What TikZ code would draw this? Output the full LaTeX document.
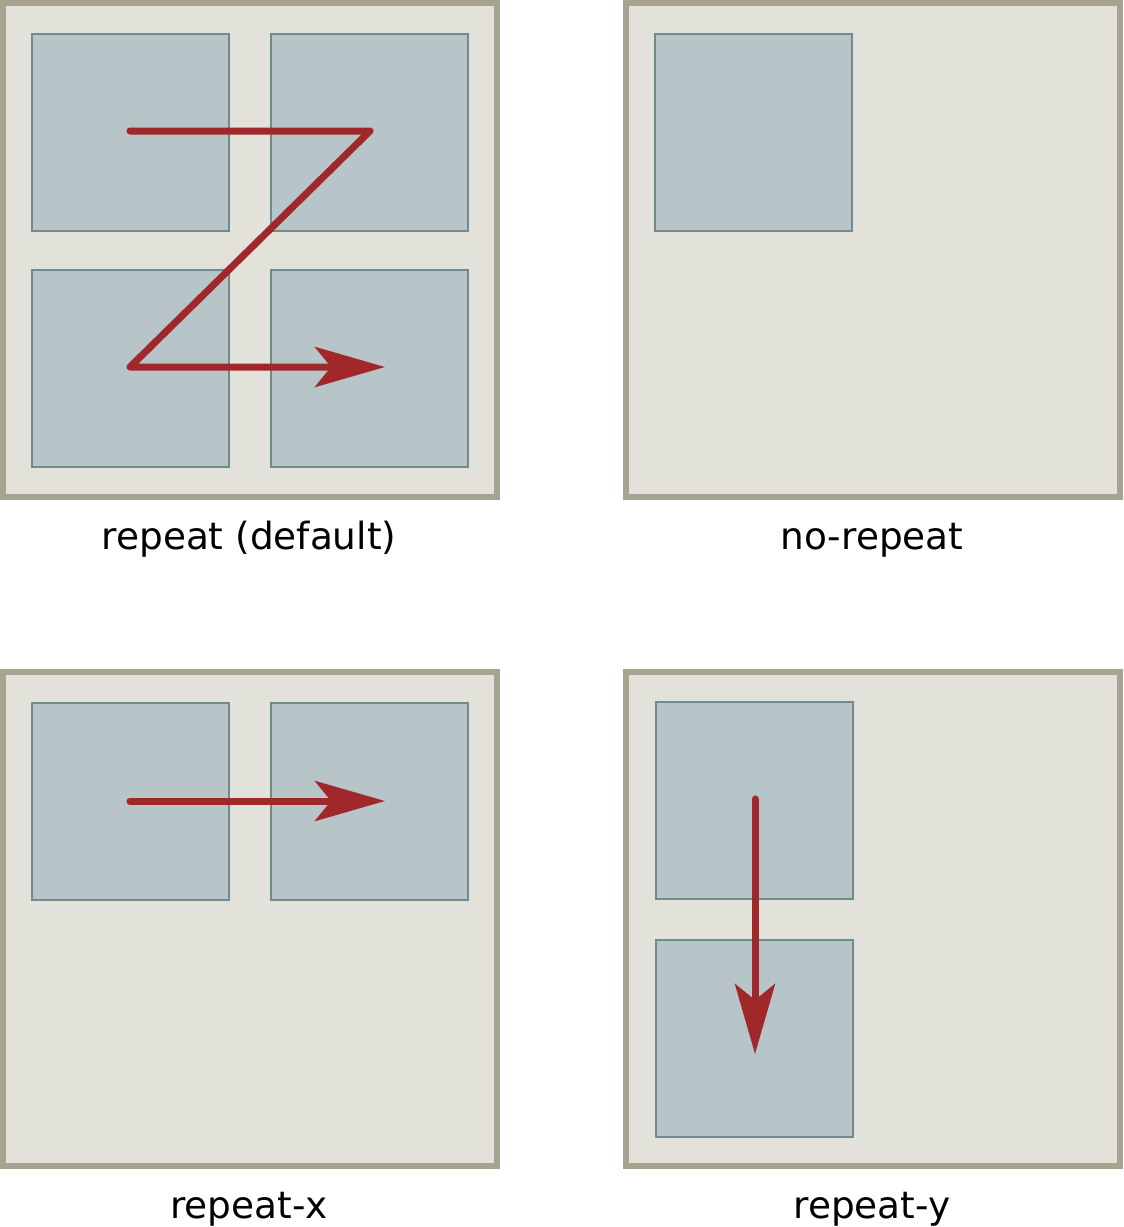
\documentclass[tikz,border=0pt]{standalone}
\usepackage{fontspec}
\setmainfont{DejaVu Sans}
\usetikzlibrary{arrows.meta}

\definecolor{frameline}{HTML}{A8A390}
\definecolor{framefill}{HTML}{E2E1DA}
\definecolor{tilefill}{HTML}{B7C4C8}
\definecolor{tileline}{HTML}{6F8B8E}
\definecolor{pathred}{HTML}{A0282A}

\tikzset{
  frame/.style={draw=frameline, fill=framefill, line width=6*0.02cm},
  tile/.style={draw=tileline, fill=tilefill, line width=2*0.02cm},
  order/.style={draw=pathred, line width=7*0.02cm, line cap=round, line join=round,
    -{Stealth[length=70*0.02cm, width=40*0.02cm, inset=16*0.02cm]}},
  caption/.style={anchor=base, font=\fontsize{21.3}{25}\selectfont, inner sep=0pt}
}

\begin{document}
\begin{tikzpicture}[x=0.02cm, y=-0.02cm]
% define variables
\pgfmathparse{197}\let\s=\pgfmathresult
\useasboundingbox (0,0) rectangle (1123,1227);

% draw frames
\foreach \x/\y in {3/3, 626/3, 3/672, 626/672}{
	\draw[frame] (\x, \y) rectangle ++(494, 494);
}

% draw tiles
\foreach \x/\y in {32/34, 271/34, 32/270, 271/270}{
	\draw[tile] (\x, \y) rectangle ++(\s, \s);
}
\draw[tile] (655,34) rectangle ++(\s, \s);
\foreach \x/\y in {32/703, 271/703}{
	\draw[tile] (\x, \y) rectangle ++(\s, \s);
}
\foreach \x/\y in {656/702, 656/940}{
	\draw[tile] (\x, \y) rectangle ++(\s, \s);
}

% painting order
\coordinate (rs) at (130,131);
\coordinate (rt) at (370,131);
\coordinate (rb) at (130,367);
\coordinate (re) at (385,367);
\draw[order] (rs) -- (rt) -- (rb) -- (re);

\coordinate (xs) at (130,801);
\coordinate (xe) at (385,801);
\draw[order] (xs) -- (xe);

\coordinate (ys) at (755,799);
\coordinate (ye) at (755,1054);
\draw[order] (ys) -- (ye);

% text
\node[caption] (repeat) at (249,549) {repeat (default)};
\node[caption] (norepeat) at (872,549) {no-repeat};
\node[caption] (repeatx) at (249,1218) {repeat-x};
\node[caption] (repeaty) at (872,1218) {repeat-y};
\end{tikzpicture}
\end{document}
